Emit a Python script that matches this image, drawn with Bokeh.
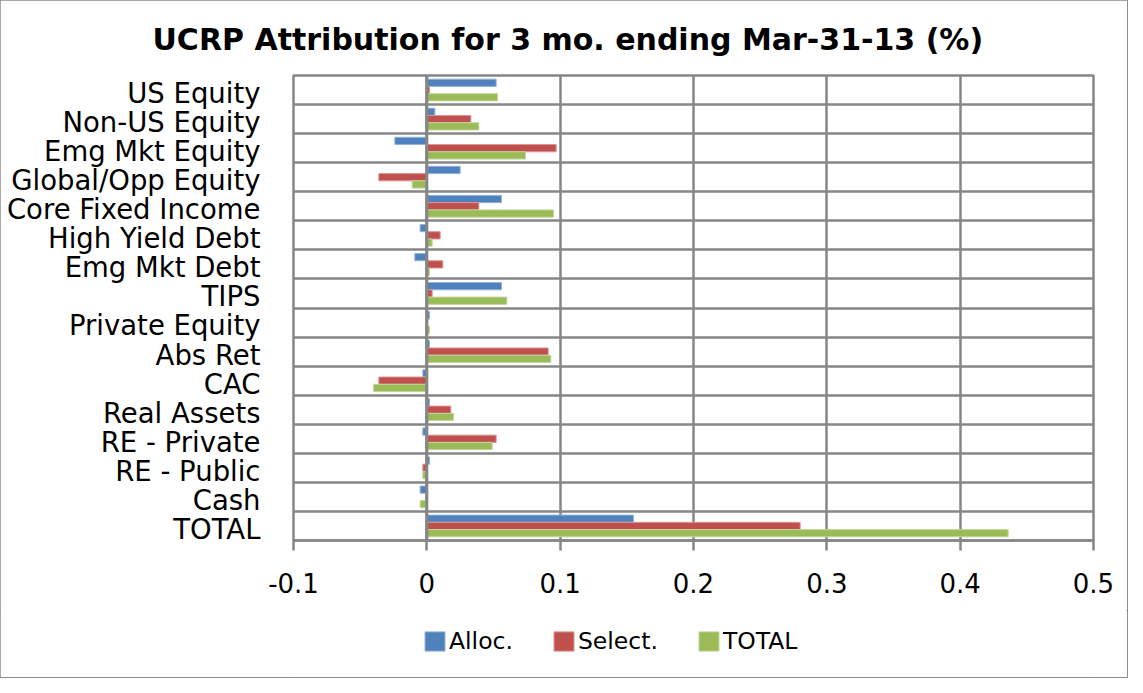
from bokeh.plotting import figure
from bokeh.layouts import column
from bokeh.models import (Range1d, FixedTicker, CustomJSTickFormatter, Span, Legend,
                          LegendItem, ColumnDataSource, Title)
from bokeh.embed import file_html
from bokeh.resources import INLINE

categories = ["US Equity", "Non-US Equity", "Emg Mkt Equity", "Global/Opp Equity",
              "Core Fixed Income", "High Yield Debt", "Emg Mkt Debt", "TIPS",
              "Private Equity", "Abs Ret", "CAC", "Real Assets", "RE - Private",
              "RE - Public", "Cash", "TOTAL"]
alloc = [0.052, 0.006, -0.024, 0.025, 0.056, -0.005, -0.009, 0.056,
         0.002, 0.002, -0.003, 0.002, -0.003, 0.002, -0.005, 0.155]
select = [0.002, 0.033, 0.097, -0.036, 0.039, 0.010, 0.012, 0.004,
          -0.001, 0.091, -0.036, 0.018, 0.052, -0.003, 0.000, 0.280]
total = [0.053, 0.039, 0.074, -0.011, 0.095, 0.004, 0.002, 0.060,
         0.002, 0.093, -0.040, 0.020, 0.049, -0.003, -0.005, 0.436]
x_ticks = [-0.1, 0, 0.1, 0.2, 0.3, 0.4, 0.5]
series_names = ["Alloc.", "Select.", "TOTAL"]

FONT = "DejaVu Sans"
GRID = "#868686"
n = len(categories)
centers = [n - 1 - i + 0.5 for i in range(n)]
label_pos = [c - 0.1 for c in centers]

W = 1127
H_MAIN = 610
H_LEG = 67

p = figure(width=W, height=H_MAIN, output_backend="svg", toolbar_location=None,
           x_range=Range1d(-0.1, 0.5), y_range=Range1d(0, n),
           min_border_left=293, min_border_right=34, min_border_top=75,
           min_border_bottom=70)

p.title = Title(text="UCRP Attribution for 3 mo. ending Mar-31-13 (%)",
                align="left", offset=-141, text_font=FONT, text_font_size="30px",
                text_font_style="bold", text_color="black", standoff=34,
                vertical_align="top")

bar_h = 0.25
fills = ["#4F81BD", "#C0504D", "#9BBB59"]
lines = ["#95B3D7", "#D99694", "#C3D69B"]
offsets = [bar_h, 0.0, -bar_h]
for vals, fc, lc, off in zip([alloc, select, total], fills, lines, offsets):
    src = ColumnDataSource(dict(y=[c + off for c in centers], right=vals))
    p.hbar(y="y", left=0, right="right", height=bar_h, source=src,
           fill_color=fc, line_color=lc, line_width=1)

p.add_layout(Span(location=0, dimension="height", line_color=GRID, line_width=3))

# x axis
p.xaxis.ticker = FixedTicker(ticks=x_ticks)
p.xaxis.formatter = CustomJSTickFormatter(code="return tick === 0 ? '0' : tick.toFixed(1);")
p.xaxis.major_label_text_font = FONT
p.xaxis.major_label_text_font_size = "26px"
p.xaxis.major_label_text_color = "black"
p.xaxis.axis_line_color = GRID
p.xaxis.axis_line_width = 2.5
p.xaxis.major_tick_line_color = GRID
p.xaxis.major_tick_line_width = 2.5
p.xaxis.major_tick_out = 10
p.xaxis.major_tick_in = 0
p.xaxis.minor_tick_line_color = None
p.xaxis.major_label_standoff = 22

# y axis
p.yaxis.ticker = FixedTicker(ticks=label_pos)
p.yaxis.major_label_overrides = {c: name for c, name in zip(label_pos, categories)}
p.yaxis.major_label_text_font = FONT
p.yaxis.major_label_text_font_size = "27.5px"
p.yaxis.major_label_text_color = "black"
p.yaxis.axis_line_color = None
p.yaxis.major_tick_line_color = None
p.yaxis.minor_tick_line_color = None
p.yaxis.major_label_standoff = 27

# grids
p.xgrid.ticker = FixedTicker(ticks=x_ticks)
p.xgrid.grid_line_color = GRID
p.xgrid.grid_line_width = 2.5
p.ygrid.ticker = FixedTicker(ticks=list(range(n + 1)))
p.ygrid.grid_line_color = GRID
p.ygrid.grid_line_width = 2.5
p.outline_line_color = GRID
p.outline_line_width = 2.5

# legend strip (its frame is aligned with the main plot's frame by the column layout)
q = figure(width=W, height=H_LEG, output_backend="svg", toolbar_location=None,
           x_axis_type=None, y_axis_type=None, x_range=Range1d(0, 1), y_range=Range1d(0, 1),
           min_border_left=0, min_border_right=0, min_border_top=0, min_border_bottom=0)
q.grid.visible = False
q.outline_line_color = None
leg_renderers = []
for fc, lc in zip(fills, lines):
    # swatch renderers kept outside the strip's visible range; only their legend swatch shows
    r = q.hbar(y=[-5], left=[0], right=[1], height=0.1, fill_color=fc, line_color=lc, line_width=1)
    leg_renderers.append(r)
legend = Legend(items=[LegendItem(label=nm, renderers=[r]) for nm, r in zip(series_names, leg_renderers)],
                orientation="horizontal", location=(129, 22),
                glyph_width=25, glyph_height=24, label_standoff=2, spacing=38,
                label_text_font=FONT, label_text_font_size="23.5px", label_text_color="black",
                border_line_color=None, background_fill_alpha=0, padding=0, margin=0)
q.add_layout(legend)

layout = column(p, q, spacing=0)
layout.styles = {"outline": "2px solid #8c8c8c", "outline-offset": "-1px"}

open("out.html", "w").write(file_html(layout, INLINE))
